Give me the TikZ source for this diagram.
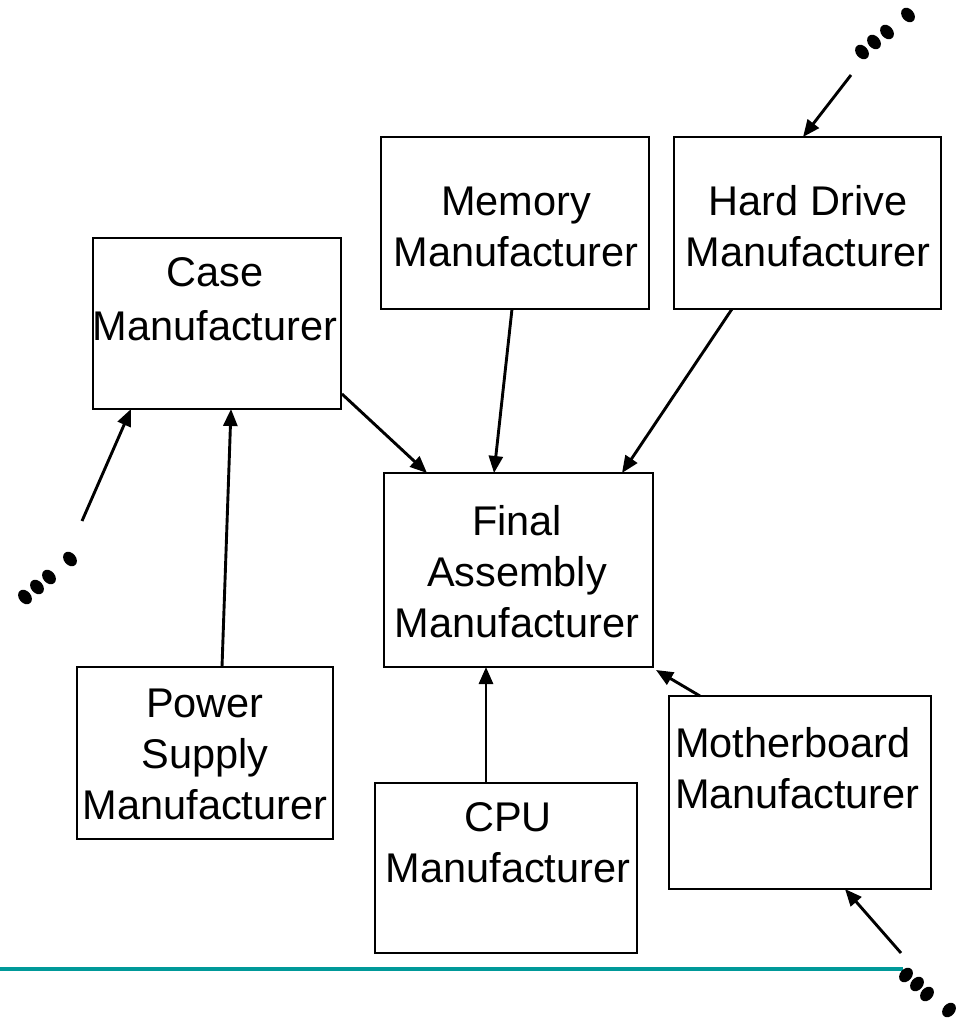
\documentclass[tikz,border=0pt]{standalone}
\usepackage{fontspec}
\setmainfont{Liberation Sans}
\usetikzlibrary{arrows.meta,calc}
\definecolor{tealline}{RGB}{0,153,153}
\tikzset{
  box/.style={draw=black, line width=2.9pt, rectangle, inner sep=0pt, outer sep=0pt},
  lbl/.style={inner sep=0pt, outer sep=0pt, anchor=base, align=center,
    font=\fontsize{41.5pt}{51pt}\selectfont},
  flow/.style={line width=2.9pt, -{Triangle[length=17pt,width=14pt]}},
  dot/.style={fill=black},
}
\begin{document}
\begin{tikzpicture}[x=1pt,y=-1pt]
\useasboundingbox (0,0) rectangle (961,1019);
% bottom rule
\coordinate (ruleL) at (0,969);
\coordinate (ruleR) at (903,969);
\draw[tealline, line width=4.5pt] (ruleL) -- (ruleR);
% boxes
\node[box, minimum width=248pt, minimum height=171pt] (case) at (217,323.5) {};
\node[box, minimum width=268pt, minimum height=172pt] (mem) at (515,223) {};
\node[box, minimum width=267pt, minimum height=172pt] (hd) at (807.5,223) {};
\node[box, minimum width=269pt, minimum height=194pt] (final) at (518.5,570) {};
\node[box, minimum width=256pt, minimum height=172pt] (power) at (205,753) {};
\node[box, minimum width=262pt, minimum height=170pt] (cpu) at (506,868) {};
\node[box, minimum width=262pt, minimum height=193pt] (mb) at (800,792.5) {};
% labels (anchor = baseline of last line)
\node[lbl, font=\fontsize{41.5pt}{54pt}\selectfont] (caseT) at (215,340) {Case\\Manufacturer};
\node[lbl] (memT) at (516,266) {Memory\\Manufacturer};
\node[lbl] (hdT) at (808,266) {Hard Drive\\Manufacturer};
\node[lbl] (finalT) at (517,637) {Final\\Assembly\\Manufacturer};
\node[lbl] (powerT) at (205,819) {Power\\Supply\\Manufacturer};
\node[lbl] (cpuT) at (508,882) {CPU\\Manufacturer};
\node[lbl, align=left, anchor=base west] (mbT) at (675,808) {Motherboard\\Manufacturer};
% ellipsis dots
\foreach \p in {(862,52),(874,42),(887,32),(908,15)}
  \fill[dot] \p ellipse [x radius=6pt, y radius=8pt, rotate=40];
\foreach \p in {(25,597),(37,587),(49,577),(70,559)}
  \fill[dot] \p ellipse [x radius=6pt, y radius=8pt, rotate=40];
\foreach \p in {(906,975),(917,984),(927,994),(949,1010)}
  \fill[dot] \p ellipse [x radius=6pt, y radius=8pt, rotate=-40];
% free ends of connectors
\coordinate (topIn) at (851,75);
\coordinate (leftIn) at (82,521);
\coordinate (botIn) at (901,953);
% connectors
\draw[flow] ($(case.south east)+(1,-15)$) -- ($(final.north west)+(43,0)$);
\draw[flow] ($(mem.south)+(-3,0)$) -- ($(final.north)+(-24.5,0)$);
\draw[flow] ($(hd.south)+(-75.5,0)$) -- ($(final.north east)+(-31,0)$);
\draw[flow] (topIn) -- ($(hd.north west)+(129,0)$);
\draw[flow] (leftIn) -- ($(case.south west)+(38,0)$);
\draw[flow] ($(power.north)+(17,0)$) -- ($(case.south)+(14,0)$);
\draw[flow] ($(cpu.north)+(-20,0)$) -- ($(final.south)+(-32.5,0)$);
\draw[flow] ($(mb.north west)+(31,0)$) -- ($(final.south east)+(3,3)$);
\draw[flow] (botIn) -- ($(mb.south west)+(176,0)$);
\end{tikzpicture}
\end{document}
